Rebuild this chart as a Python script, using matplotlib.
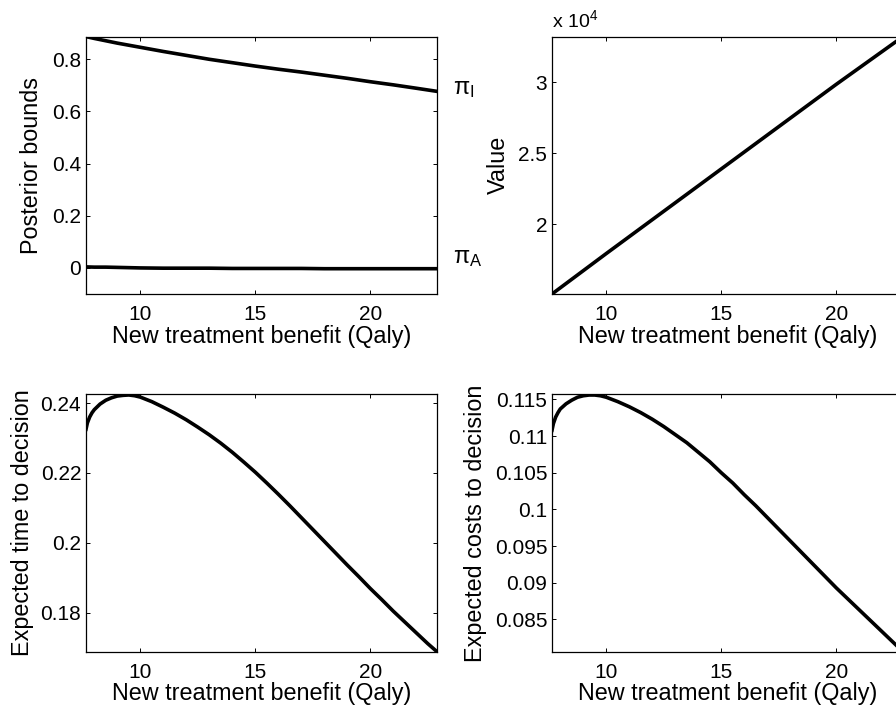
import matplotlib
matplotlib.use('Agg')
import matplotlib.pyplot as plt
from matplotlib.ticker import FuncFormatter

plt.rcParams['font.family'] = ['Liberation Sans', 'DejaVu Sans']
plt.rcParams['mathtext.fontset'] = 'custom'
plt.rcParams['mathtext.rm'] = 'Liberation Sans'
plt.rcParams['mathtext.it'] = 'Liberation Sans:italic'

# Posterior bounds against the benefit of the new treatment
benefit_bounds = [7.64, 8, 8.5, 9, 9.5, 10, 11, 12, 13, 14, 15, 16, 17, 18,
                  19, 20, 21, 22, 22.9]
pi_upper = [0.887, 0.880, 0.871, 0.862, 0.854, 0.846, 0.830, 0.815, 0.800,
            0.787, 0.774, 0.762, 0.751, 0.739, 0.727, 0.714, 0.702, 0.689,
            0.677]
pi_lower = [0.004, 0.003, 0.003, 0.002, 0.001, 0.000, -0.001, -0.001, -0.001,
            -0.002, -0.002, -0.002, -0.002, -0.003, -0.003, -0.003, -0.003,
            -0.003, -0.003]

# Value of the decision problem
benefit_value = [7.64, 10, 12.5, 15, 17.5, 20, 22.9]
value = [15070, 17920, 20900, 23880, 26860, 29840, 33200]

# Expected time and costs until a decision is made
benefit = [7.64, 7.7, 7.8, 7.9, 8.0, 8.25, 8.5, 8.75, 9.0, 9.25, 9.5, 9.75,
           10, 10.5, 11, 11.5, 12, 12.5, 13, 13.5, 14, 14.5, 15, 15.5, 16,
           16.5, 17, 17.5, 18, 18.5, 19, 19.5, 20, 20.5, 21, 21.5, 22, 22.5,
           22.9]
exp_time = [0.2325, 0.2343, 0.2360, 0.2372, 0.2381, 0.2397, 0.2408, 0.2415,
            0.2420, 0.2422, 0.2423, 0.2421, 0.2417, 0.2404, 0.2388, 0.2371,
            0.2352, 0.2331, 0.2309, 0.2285, 0.2259, 0.2231, 0.2202, 0.2171,
            0.2139, 0.2106, 0.2072, 0.2038, 0.2004, 0.1970, 0.1936, 0.1903,
            0.1869, 0.1837, 0.1804, 0.1773, 0.1742, 0.1711, 0.1688]
exp_costs = [0.1108, 0.1117, 0.1126, 0.1132, 0.1137, 0.1144, 0.1149, 0.1153,
             0.1155, 0.1156, 0.1156, 0.1155, 0.1153, 0.1147, 0.1140, 0.1132,
             0.1123, 0.1113, 0.1102, 0.1091, 0.1078, 0.1065, 0.1050, 0.1036,
             0.1020, 0.1005, 0.0989, 0.0973, 0.0957, 0.0941, 0.0925, 0.0909,
             0.0893, 0.0878, 0.0863, 0.0848, 0.0833, 0.0818, 0.0806]

TICK_FS = 15
LABEL_FS = 16.8
xlabel = 'New treatment benefit (Qaly)'

fig = plt.figure(figsize=(8.96, 7.09), dpi=100)
W, H = 351 / 896, 257.4 / 709
ax1 = fig.add_axes([86 / 896, 1 - 294 / 709, W, H])
ax2 = fig.add_axes([552 / 896, 1 - 294 / 709, W, H])
ax3 = fig.add_axes([86 / 896, 1 - 651.7 / 709, W, H])
ax4 = fig.add_axes([552 / 896, 1 - 651.7 / 709, W, H])


def style(ax, ylabel, ylab_x):
    for s in ax.spines.values():
        s.set_linewidth(0.9)
    ax.tick_params(direction='in', top=True, right=True, length=2.6,
                   width=0.7, labelsize=TICK_FS)
    ax.tick_params(axis='y', pad=3.5)
    ax.tick_params(axis='x', pad=8)
    ax.set_xlabel(xlabel, fontsize=LABEL_FS)
    ax.set_ylabel(ylabel, fontsize=LABEL_FS)
    ax.xaxis.label.set_va('center')
    ax.xaxis.set_label_coords(0.5, -42 / 257.4)
    ax.yaxis.label.set_va('center')
    ax.yaxis.set_label_coords(ylab_x, 0.5)
    ax.set_xticks([10, 15, 20])


# top left: posterior bounds
ax1.plot(benefit_bounds, pi_upper, color='black', lw=2.6)
ax1.plot(benefit_bounds, pi_lower, color='black', lw=2.6)
ax1.set_xlim(benefit_bounds[0], benefit_bounds[-1])
ax1.set_ylim(-0.1, max(pi_upper))
ax1.set_yticks([0, 0.2, 0.4, 0.6, 0.8])
ax1.yaxis.set_major_formatter(FuncFormatter(lambda v, p: f'{v:g}'))
style(ax1, 'Posterior bounds', -0.154)
ax1.text(23.59, 0.665, r'$\mathrm{\pi}_{\mathrm{I}}$', fontsize=17,
         ha='left', va='baseline', clip_on=False)
ax1.text(23.59, 0.018, r'$\mathrm{\pi}_{\mathrm{A}}$', fontsize=17,
         ha='left', va='baseline', clip_on=False)

# top right: value
ax2.plot(benefit_value, value, color='black', lw=2.6)
ax2.set_xlim(benefit_value[0], benefit_value[-1])
ax2.set_ylim(min(value), max(value))
ax2.set_yticks([20000, 25000, 30000])
ax2.yaxis.set_major_formatter(FuncFormatter(lambda v, p: f'{v / 1e4:g}'))
style(ax2, 'Value', -0.154)
ax2.text(0, 1.02, r'x 10$^{\mathrm{4}}$', transform=ax2.transAxes,
         fontsize=14, ha='left', va='bottom')

# bottom left: expected time to decision
ax3.plot(benefit, exp_time, color='black', lw=2.6)
ax3.set_xlim(benefit[0], benefit[-1])
ax3.set_ylim(min(exp_time), 0.2425)
ax3.set_yticks([0.18, 0.2, 0.22, 0.24])
ax3.yaxis.set_major_formatter(FuncFormatter(lambda v, p: f'{v:g}'))
style(ax3, 'Expected time to decision', -0.182)

# bottom right: expected costs to decision
ax4.plot(benefit, exp_costs, color='black', lw=2.6)
ax4.set_xlim(benefit[0], benefit[-1])
ax4.set_ylim(min(exp_costs), 0.1157)
ax4.set_yticks([0.085, 0.09, 0.095, 0.1, 0.105, 0.11, 0.115])
ax4.yaxis.set_major_formatter(FuncFormatter(lambda v, p: f'{v:g}'))
style(ax4, 'Expected costs to decision', -0.218)

fig.savefig('out.png', dpi=100)
